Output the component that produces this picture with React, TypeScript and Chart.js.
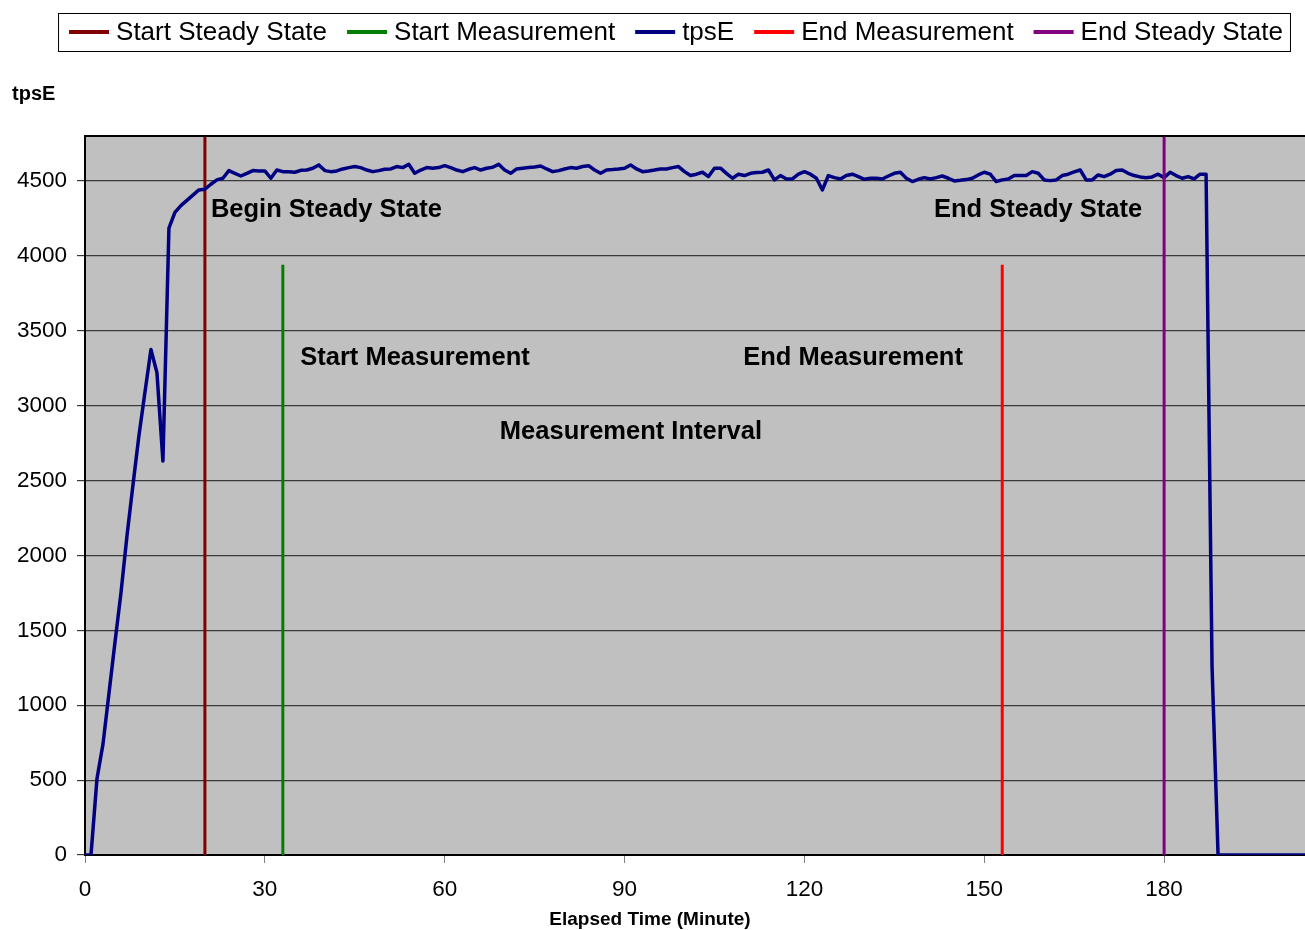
import React, { useEffect, useRef } from 'react';
import { Chart, registerables } from 'chart.js';

Chart.register(...registerables);

const FONT = '"Liberation Sans", Arial, Helvetica, sans-serif';

// tpsE per elapsed minute (index = minute)
const tpsE: number[] = [
  0, 0, 510, 740, 1080, 1420, 1750, 2130, 2470, 2800,
  3090, 3375, 3220, 2630, 4185, 4290, 4335, 4370, 4405, 4440,
  4445, 4478, 4507, 4518, 4569, 4551, 4533, 4551, 4569, 4567,
  4567, 4518, 4573, 4562, 4562, 4558, 4571, 4573, 4585, 4607,
  4569, 4562, 4567, 4580, 4589, 4596, 4589, 4573, 4562, 4569,
  4578, 4580, 4596, 4589, 4611, 4551, 4573, 4589, 4585, 4589,
  4602, 4589, 4573, 4562, 4578, 4589, 4573, 4585, 4591, 4611,
  4573, 4551, 4580, 4585, 4589, 4593, 4600, 4580, 4562, 4569,
  4580, 4589, 4585, 4596, 4602, 4573, 4551, 4573, 4576, 4580,
  4585, 4607, 4580, 4562, 4567, 4573, 4580, 4580, 4589, 4596,
  4562, 4536, 4545, 4558, 4529, 4585, 4585, 4551, 4518, 4545,
  4536, 4551, 4556, 4558, 4573, 4507, 4536, 4513, 4513, 4545,
  4562, 4545, 4518, 4440, 4536, 4522, 4513, 4536, 4545, 4529,
  4511, 4518, 4518, 4513, 4533, 4551, 4558, 4518, 4496, 4511,
  4522, 4513, 4522, 4533, 4518, 4500, 4504, 4509, 4518, 4540,
  4558, 4545, 4496, 4507, 4513, 4536, 4536, 4536, 4562, 4551,
  4507, 4502, 4507, 4536, 4545, 4560, 4573, 4507, 4507, 4540,
  4529, 4545, 4569, 4573, 4551, 4536, 4527, 4522, 4527, 4545,
  4522, 4558, 4536, 4518, 4529, 4513, 4545, 4545, 1250, 0,
  0, 0, 0, 0, 0, 0, 0, 0, 0, 0,
  0, 0, 0, 0, 0,
];

// Marker lines (minute, top value)
const startSteadyMinute = 20;
const startMeasMinute = 33;
const endMeasMinute = 153;
const endSteadyMinute = 180;
const steadyLineTop = 4800;
const measLineTop = 3940;

// Axis settings and tick labels
const xMax = 203.5;
const yMax = 4800;
const xTickValues: number[] = [0, 30, 60, 90, 120, 150, 180];
const yTickValues: number[] = [0, 500, 1000, 1500, 2000, 2500, 3000, 3500, 4000, 4500];

// Annotation texts with their minute / value anchors
const annotationTexts: string[] = [
  'Begin Steady State',
  'End Steady State',
  'Start Measurement',
  'End Measurement',
  'Measurement Interval',
];
const annotationMinutes: number[] = [21.0, 141.6, 35.9, 109.8, 69.2];
const annotationValues: number[] = [4306, 4306, 3318, 3318, 2824];

const xTitle = 'Elapsed Time (Minute)';
const yTitle = 'tpsE';

const decorPlugin = {
  id: 'decor',
  beforeDraw(chart: any) {
    const { ctx, chartArea: a } = chart;
    ctx.save();
    ctx.fillStyle = '#C0C0C0';
    ctx.fillRect(a.left, a.top, a.right - a.left, a.bottom - a.top);
    ctx.restore();
  },
  afterDraw(chart: any) {
    const { ctx, chartArea: a, scales } = chart;
    ctx.save();
    // top border
    ctx.strokeStyle = '#000';
    ctx.lineWidth = 2;
    ctx.beginPath();
    ctx.moveTo(a.left - 1, a.top);
    ctx.lineTo(a.right, a.top);
    ctx.stroke();

    // annotations
    ctx.fillStyle = '#000';
    ctx.font = `bold 25.5px ${FONT}`;
    ctx.textAlign = 'left';
    ctx.textBaseline = 'middle';
    annotationTexts.forEach((t, i) => {
      const x = scales.x.getPixelForValue(annotationMinutes[i]);
      const y = scales.y.getPixelForValue(annotationValues[i]);
      ctx.fillText(t, x, y);
    });

    // y title (horizontal, top-left)
    ctx.font = `bold 20px ${FONT}`;
    ctx.fillText(yTitle, 12, 94);

    // x title
    ctx.font = `bold 19px ${FONT}`;
    ctx.textAlign = 'center';
    ctx.fillText(xTitle, 650, 920);

    // legend
    const ds = chart.data.datasets;
    ctx.font = `26px ${FONT}`;
    const lineLen = 40;
    const gapText = 7;
    const gapItem = 20;
    const widths = ds.map((d: any) => ctx.measureText(d.label).width);
    const total =
      widths.reduce((s: number, w: number) => s + w + lineLen + gapText, 0) +
      gapItem * (ds.length - 1);
    const center = 676;
    let x = center - total / 2;
    const boxL = x - 11;
    const boxR = x + total + 7;
    const cy = 32;
    ctx.strokeStyle = '#000';
    ctx.lineWidth = 1;
    ctx.strokeRect(boxL + 0.5, 13.5, boxR - boxL, 38);
    ctx.textAlign = 'left';
    ds.forEach((d: any, i: number) => {
      ctx.strokeStyle = d.borderColor;
      ctx.lineWidth = 4;
      ctx.beginPath();
      ctx.moveTo(x, cy);
      ctx.lineTo(x + lineLen, cy);
      ctx.stroke();
      ctx.fillStyle = '#000';
      ctx.fillText(d.label, x + lineLen + gapText, cy + 1);
      x += lineLen + gapText + widths[i] + gapItem;
    });
    ctx.restore();
  },
};

export default function App() {
  const ref = useRef<HTMLCanvasElement | null>(null);

  useEffect(() => {
    document.body.style.margin = '0';
    const canvas = ref.current;
    if (!canvas) return;
    const vline = (m: number, top: number) => [
      { x: m, y: 0 },
      { x: m, y: top },
    ];
    const chart = new Chart(canvas, {
      type: 'line',
      data: {
        datasets: [
          {
            label: 'Start Steady State',
            data: vline(startSteadyMinute, steadyLineTop),
            borderColor: '#800000',
            borderWidth: 3,
            pointRadius: 0,
            order: 3,
          },
          {
            label: 'Start Measurement',
            data: vline(startMeasMinute, measLineTop),
            borderColor: '#008000',
            borderWidth: 3,
            pointRadius: 0,
            order: 3,
          },
          {
            label: 'tpsE',
            data: tpsE.map((v, i) => ({ x: i, y: v })),
            borderColor: '#000080',
            borderWidth: 3.5,
            borderJoinStyle: 'round',
            pointRadius: 0,
            tension: 0,
            order: 2,
          },
          {
            label: 'End Measurement',
            data: vline(endMeasMinute, measLineTop),
            borderColor: '#FF0000',
            borderWidth: 3,
            pointRadius: 0,
            order: 3,
          },
          {
            label: 'End Steady State',
            data: vline(endSteadyMinute, steadyLineTop),
            borderColor: '#800080',
            borderWidth: 3,
            pointRadius: 0,
            order: 1,
          },
        ],
      } as any,
      options: {
        responsive: false,
        animation: false,
        devicePixelRatio: 1,
        layout: { padding: { top: 136, left: 0, right: 0, bottom: 0 } },
        plugins: {
          legend: { display: false },
          title: { display: false },
          tooltip: { enabled: false },
        },
        scales: {
          x: {
            type: 'linear',
            min: 0,
            max: xMax,
            afterFit: (s: any) => {
              s.height = 75;
            },
            afterBuildTicks: (s: any) => {
              s.ticks = xTickValues.map((v) => ({ value: v }));
            },
            ticks: {
              color: '#000',
              padding: 13,
              font: { family: FONT, size: 22.5 },
              maxRotation: 0,
              autoSkip: false,
              callback: (v: any) => String(v),
            },
            grid: {
              drawOnChartArea: false,
              drawTicks: true,
              tickLength: 8,
              color: '#808080',
            },
            border: { display: true, color: '#000', width: 2 },
          },
          y: {
            min: 0,
            max: yMax,
            afterFit: (s: any) => {
              s.width = 85;
            },
            afterBuildTicks: (s: any) => {
              s.ticks = yTickValues.map((v) => ({ value: v }));
            },
            ticks: {
              color: '#000',
              padding: 10,
              autoSkip: false,
              font: { family: FONT, size: 22.5 },
              callback: (v: any) => String(v),
            },
            grid: {
              color: '#3a3a3a',
              lineWidth: 1.2,
              tickLength: 8,
              drawTicks: true,
            },
            border: { display: true, color: '#000', width: 2 },
          },
        },
      } as any,
      plugins: [decorPlugin],
    });
    return () => chart.destroy();
  }, []);

  return (
    <canvas
      ref={ref}
      width={1305}
      height={930}
      style={{ display: 'block', width: 1305, height: 930 }}
    />
  );
}
